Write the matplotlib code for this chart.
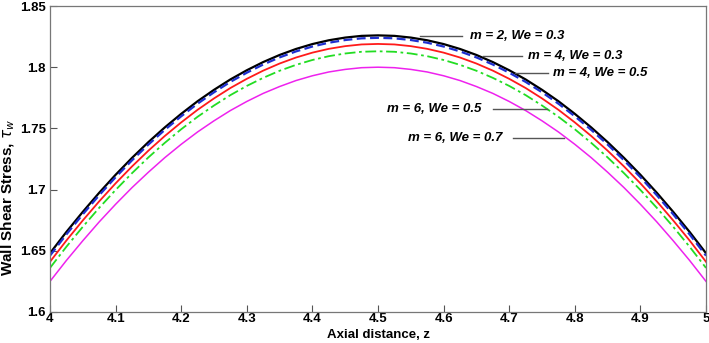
import matplotlib
matplotlib.use('Agg')
import matplotlib.pyplot as plt
import numpy as np

# values, left half z = 4 .. 4.5 every 0.025
# (the curves are symmetric about z = 4.5)
z = [round(4 + 0.025 * i, 3) for i in range(41)]

half_m2_we03 = [1.648, 1.6654, 1.6818, 1.6974, 1.7121, 1.7259, 1.7388, 1.7508, 1.7619, 1.7722, 1.7815,
                1.7900, 1.7975, 1.8042, 1.8100, 1.8149, 1.8189, 1.8220, 1.8242, 1.8256, 1.826]
half_m4_we03 = [1.646, 1.6634, 1.6798, 1.6954, 1.7101, 1.7239, 1.7368, 1.7488, 1.7599, 1.7702, 1.7795,
                1.7880, 1.7955, 1.8022, 1.8080, 1.8129, 1.8169, 1.8200, 1.8222, 1.8236, 1.824]
half_m4_we05 = [1.641, 1.6584, 1.6748, 1.6904, 1.7051, 1.7189, 1.7318, 1.7438, 1.7549, 1.7652, 1.7745,
                1.7830, 1.7905, 1.7972, 1.8030, 1.8079, 1.8119, 1.8150, 1.8172, 1.8186, 1.819]
half_m6_we05 = [1.636, 1.6533, 1.6696, 1.6851, 1.6997, 1.7134, 1.7263, 1.7382, 1.7493, 1.7595, 1.7687,
                1.7772, 1.7847, 1.7913, 1.7971, 1.8019, 1.8059, 1.8090, 1.8112, 1.8126, 1.813]
half_m6_we07 = [1.625, 1.6421, 1.6582, 1.6736, 1.6880, 1.7016, 1.7142, 1.7261, 1.7370, 1.7471, 1.7562,
                1.7646, 1.7720, 1.7786, 1.7842, 1.7891, 1.7930, 1.7961, 1.7982, 1.7996, 1.800]

def mirror(h):
    return h + h[-2::-1]

tau_m2_we03 = mirror(half_m2_we03)
tau_m4_we03 = mirror(half_m4_we03)
tau_m4_we05 = mirror(half_m4_we05)
tau_m6_we05 = mirror(half_m6_we05)
tau_m6_we07 = mirror(half_m6_we07)

labels = ['m = 2, We = 0.3', 'm = 4, We = 0.3', 'm = 4, We = 0.5',
          'm = 6, We = 0.5', 'm = 6, We = 0.7']

xticks = [4, 4.1, 4.2, 4.3, 4.4, 4.5, 4.6, 4.7, 4.8, 4.9, 5]
xtick_labels = ['4', '4.1', '4.2', '4.3', '4.4', '4.5', '4.6', '4.7', '4.8', '4.9', '5']
yticks = [1.6, 1.65, 1.7, 1.75, 1.8, 1.85]
ytick_labels = ['1.6', '1.65', '1.7', '1.75', '1.8', '1.85']

plt.rcParams['font.family'] = ['Liberation Sans', 'DejaVu Sans']

fig = plt.figure(figsize=(7.09, 3.43), dpi=100)
ax = fig.add_axes([0.0705, 0.0904, 0.9253, 0.8921])

ax.plot(z, tau_m2_we03, color='black', lw=1.6, ls='-')
ax.plot(z, tau_m4_we03, color='#1f2fd0', lw=1.6, ls=(0, (4, 2)))
ax.plot(z, tau_m4_we05, color='#ff1a1a', lw=1.3, ls='-')
ax.plot(z, tau_m6_we05, color='#22dd22', lw=1.3, ls=(0, (6, 2, 1.5, 2)))
ax.plot(z, tau_m6_we07, color='#ee22ee', lw=1.1, ls='-')

# leader lines and labels: (line start, line end) in data coords
leaders = [((4.564, 1.8255), (4.628, 1.8255)),
           ((4.660, 1.8092), (4.720, 1.8092)),
           ((4.709, 1.7953), (4.759, 1.7953)),
           ((4.675, 1.7655), (4.758, 1.7655)),
           ((4.706, 1.7418), (4.783, 1.7418))]
text_pos = [(4.640, 1.8255), (4.728, 1.8092), (4.767, 1.7953),
            (4.514, 1.7655), (4.546, 1.7418)]
for lab, (p0, p1), tp in zip(labels, leaders, text_pos):
    ax.plot([p0[0], p1[0]], [p0[1], p1[1]], color='#555555', lw=1.0)
    ax.text(tp[0], tp[1], lab, fontsize=9.5, fontweight='bold', fontstyle='italic',
            ha='left', va='center')

ax.set_xlim(4, 5)
ax.set_ylim(1.6, 1.85)
ax.set_xticks(xticks)
ax.set_xticklabels(xtick_labels)
ax.set_yticks(yticks)
ax.set_yticklabels(ytick_labels)
ax.tick_params(direction='in', length=5, width=0.8, color='#555555', labelsize=9.5)
ax.tick_params(axis='x', pad=1)
ax.tick_params(axis='y', pad=3)
for lbl in ax.get_xticklabels() + ax.get_yticklabels():
    lbl.set_fontweight('bold')
for s in ax.spines.values():
    s.set_color('#777777')
    s.set_linewidth(0.9)

ax.set_xlabel('Axial distance, z', fontsize=9.5, fontweight='bold')
ax.xaxis.set_label_coords(0.5, -0.057)
ax.set_ylabel(r'Wall Shear Stress, $\tau_w$', fontsize=11, fontweight='bold')
ax.yaxis.set_label_coords(-0.05, 0.376)

fig.savefig('out.png', dpi=100)
